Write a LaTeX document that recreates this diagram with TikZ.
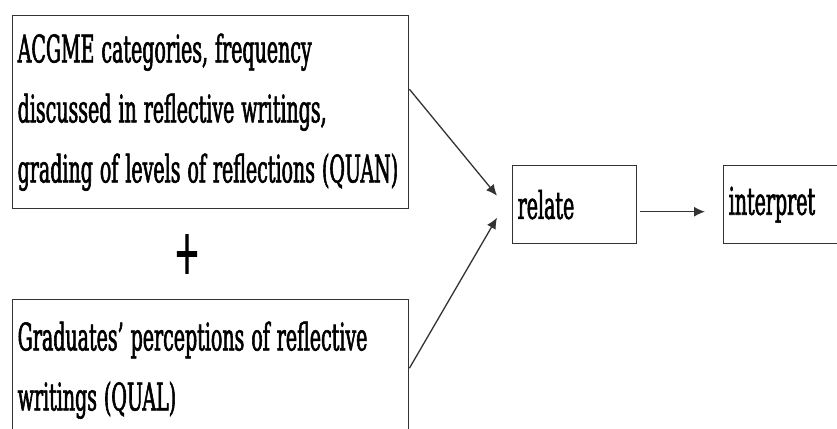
\documentclass[tikz,border=0pt]{standalone}
\usepackage{fontspec}
\setmainfont{DejaVu Serif}[FakeStretch=0.5, FakeBold=1.5]
\usetikzlibrary{arrows.meta,positioning}
\newcommand{\lineGray}[0]{black!80}
\newcommand{\boxText}[0]{\fontsize{38}{60}\selectfont\fontdimen2\font=7pt\fontdimen3\font=0pt\fontdimen4\font=0pt}
\newcommand{\plusText}[0]{\fontsize{62}{62}\selectfont}

\begin{document}
\begin{tikzpicture}[x=1pt, y=-1pt]
  \tikzset{box/.style={draw=\lineGray, line width=1.4pt, rectangle, anchor=north west, align=flush left, inner xsep=5pt, font=\boxText}}
  \tikzset{link/.style={draw=\lineGray, line width=1.3pt, -{Latex[length=11pt, width=10pt]}}}
  \useasboundingbox (0,0) rectangle (837,428);
  \clip (0,0) rectangle (837,428);
  \node[box, minimum width=396pt, minimum height=193pt, text width=386pt] (quan) at (12,15)
    {ACGME categories, frequency\\discussed in reflective writings,\\grading of levels of reflections (QUAN)};
  \node[font=\plusText, inner sep=0pt] (plus) at (187,254) {+};
  \node[box, minimum width=396pt, minimum height=141pt, text width=386pt] (qual) at (12,299)
    {Graduates' perceptions of reflective\\writings (QUAL)};
  \node[box, minimum width=124pt, minimum height=78pt, text width=114pt] (relate) at (512,165) {relate};
  \node[box, minimum width=140pt, minimum height=78pt, text width=130pt] (interp) at (723,165) {interpret};
  \coordinate (in-1) at ([xshift=-15pt, yshift=9pt]relate.west);
  \coordinate (in-2) at ([xshift=-15pt, yshift=-13pt]relate.west);
  \draw[link] ([yshift=23pt]quan.east) -- (in-1);
  \draw[link] ([yshift=2pt]qual.east) -- (in-2);
  \draw[link] ([xshift=3pt, yshift=-7pt]relate.east) -- ([xshift=-18pt, yshift=-7pt]interp.west);
\end{tikzpicture}
\end{document}
